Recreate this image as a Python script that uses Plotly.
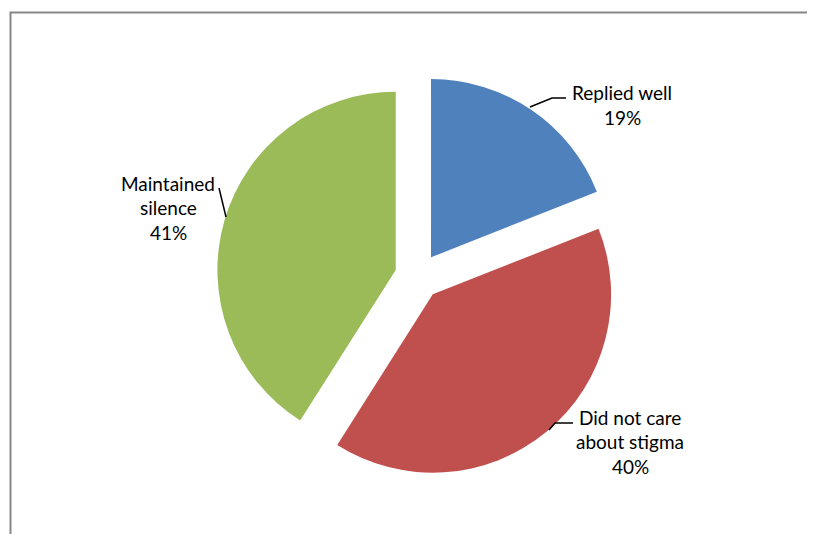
import plotly.graph_objects as go

labels = ["Replied well", "Did not care about stigma", "Maintained silence"]
values = [19, 40, 41]
colors = ["#4F81BD", "#C0504D", "#9BBB59"]
# label text lines as shown in the chart
label_lines = [["Replied well"], ["Did not care", "about stigma"], ["Maintained", "silence"]]

W, H = 815, 534
ML, MR, MT, MB = 5, 0, 67, 64
PW, PH = W - ML - MR, H - MT - MB
OFF = 8  # page body margin offset

def px(x):
    return (x - OFF - ML) / PW

def py(y):
    return (H - MB - (y - OFF)) / PH

fig = go.Figure(go.Pie(
    labels=labels,
    values=values,
    marker=dict(colors=colors, line=dict(width=0)),
    sort=False,
    direction="clockwise",
    rotation=0,
    pull=[0.13, 0.13, 0.13],
    textinfo="none",
    hoverinfo="label+percent",
    showlegend=False,
))

total = sum(values)
# label centers (x, first-line y)
label_pos = [(622, 93), (630, 417), (168, 183)]
anns = []
for lines, v, (cx, cy) in zip(label_lines, values, label_pos):
    all_lines = lines + [f"{round(100 * v / total)}%"]
    for i, t in enumerate(all_lines):
        anns.append(dict(
            x=px(cx), y=py(cy + 24.5 * i), xref="paper", yref="paper",
            text=t, showarrow=False, xanchor="center", yanchor="middle",
            font=dict(family="Lato, Carlito, Calibri, sans-serif", size=19, color="#000000"),
        ))

shapes = [
    dict(type="rect", xref="paper", yref="paper",
         x0=px(10.5), y0=py(560), x1=px(840), y1=py(12.5),
         line=dict(color="#878787", width=2), fillcolor="rgba(0,0,0,0)", layer="below"),
]
leaders = [
    [(530, 107), (552, 98), (566, 98)],
    [(549, 430), (555, 423), (573, 423)],
    [(219, 188), (226, 217)],
]
for pts in leaders:
    path = "M " + " L ".join(f"{px(x)},{py(y)}" for x, y in pts)
    shapes.append(dict(type="path", xref="paper", yref="paper", path=path,
                       line=dict(color="#000000", width=1.5)))

fig.update_layout(
    width=W, height=H,
    margin=dict(l=ML, r=MR, t=MT, b=MB),
    paper_bgcolor="white",
    plot_bgcolor="white",
    annotations=anns,
    shapes=shapes,
)

fig.write_html("out.html")
